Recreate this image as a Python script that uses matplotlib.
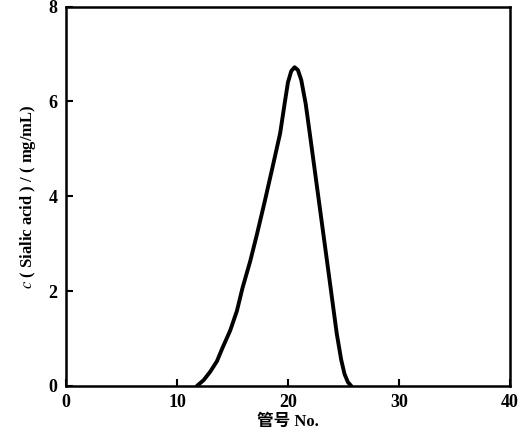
import matplotlib
matplotlib.use("Agg")
import matplotlib.pyplot as plt

plt.rcParams["mathtext.fontset"] = "stix"

# tube number vs sialic acid concentration
tube_no = [11.8, 12.4, 13.0, 13.6, 14.1, 14.8, 15.4, 15.9, 16.6, 17.2,
           17.9, 18.6, 19.3, 19.7, 20.0, 20.3, 20.6, 20.9, 21.2, 21.6,
           22.0, 22.6, 23.2, 23.8, 24.4, 24.8, 25.1, 25.4, 25.7]
sialic = [0.0, 0.12, 0.3, 0.52, 0.8, 1.17, 1.58, 2.06, 2.63, 3.19,
          3.88, 4.6, 5.33, 5.95, 6.4, 6.64, 6.72, 6.66, 6.45, 5.95,
          5.27, 4.23, 3.19, 2.15, 1.1, 0.55, 0.25, 0.08, 0.0]

x_ticks = [0, 10, 20, 30, 40]
y_ticks = [0, 2, 4, 6, 8]

SERIF = ["Liberation Serif", "Noto Sans CJK SC", "DejaVu Sans"]

fig = plt.figure(figsize=(5.24, 4.37), dpi=100)
ax = fig.add_axes([0.126, 0.117, 0.847, 0.868])

ax.plot(tube_no, sialic, color="black", linewidth=2.8, solid_capstyle="round",
        solid_joinstyle="round")

ax.set_xlim(0, 40)
ax.set_ylim(0, 8)
ax.set_xticks(x_ticks)
ax.set_yticks(y_ticks)
ax.set_xticklabels([str(t) for t in x_ticks], family=SERIF, fontweight="bold",
                   fontsize=13)
ax.set_yticklabels([str(t) for t in y_ticks], family=SERIF, fontweight="bold",
                   fontsize=13)
ax.tick_params(direction="in", length=5, width=1.5, pad=6)

for s in ax.spines.values():
    s.set_linewidth(1.8)

ax.set_xlabel("管号 No.", family=SERIF, fontweight="bold", fontsize=12,
              labelpad=2)
ax.set_ylabel(r"$c$ ( Sialic acid ) / ( mg/mL)", family=SERIF,
              fontweight="bold", fontsize=12, labelpad=8)

fig.savefig("out.png", dpi=100)
